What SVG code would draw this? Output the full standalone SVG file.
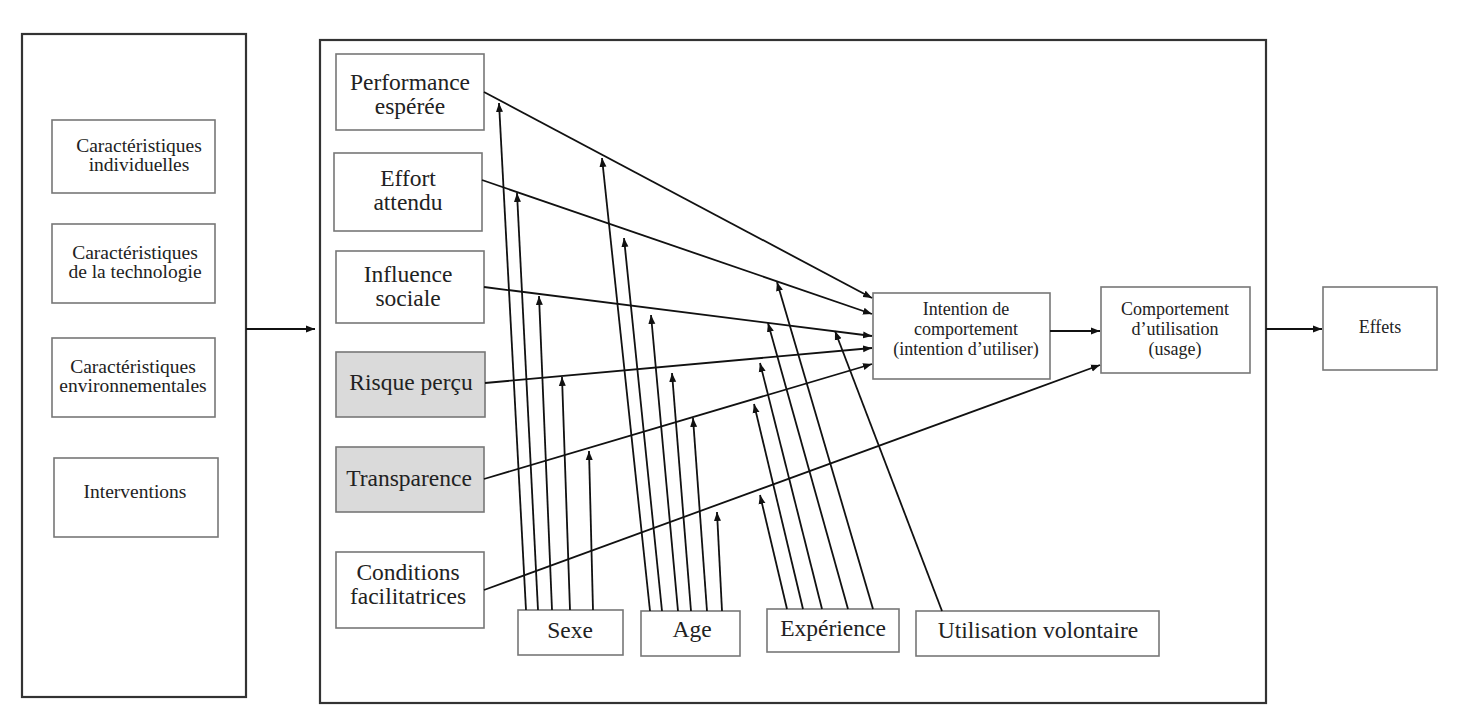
<svg xmlns="http://www.w3.org/2000/svg" width="1460" height="718" viewBox="0 0 1460 718">
<defs>
<marker id="ah" markerWidth="10" markerHeight="8" refX="9" refY="4" orient="auto" markerUnits="userSpaceOnUse"><path d="M0,0.5 L9,4 L0,7.5 z" fill="#111"/></marker>
<style>
.panel{fill:#fff;stroke:#333;stroke-width:2.2}
.box{fill:#fff;stroke:#777;stroke-width:1.6}
.grey{fill:#dadada;stroke:#777;stroke-width:1.6}
.t{font-family:"Liberation Serif",serif;fill:#222;text-anchor:middle}
.l{font-size:19.5px}
.m{font-size:23.5px}
.s{font-size:18px}
.c line{stroke:#111;stroke-width:1.8;marker-end:url(#ah)}
</style>
</defs>
<rect width="1460" height="718" fill="#fff"/>
<g id="panel-left">
<rect class="panel" x="22" y="34" width="224" height="663"/>
</g>
<g id="panel-main">
<rect class="panel" x="320" y="40" width="946" height="663"/>
</g>
<g id="n-indiv"><rect class="box" x="52" y="120" width="163" height="73"/><text class="t l" x="139" y="152">Caractéristiques</text><text class="t l" x="139" y="171">individuelles</text></g>
<g id="n-techno"><rect class="box" x="52" y="224" width="163" height="79"/><text class="t l" x="135" y="259">Caractéristiques</text><text class="t l" x="135" y="278">de la technologie</text></g>
<g id="n-env"><rect class="box" x="52" y="338" width="163" height="79"/><text class="t l" x="133" y="373">Caractéristiques</text><text class="t l" x="133" y="392">environnementales</text></g>
<g id="n-interv"><rect class="box" x="54" y="458" width="164" height="79"/><text class="t l" x="135" y="498">Interventions</text></g>
<g id="n-perf"><rect class="box" x="336" y="54" width="148" height="76"/><text class="t m" x="410" y="90">Performance</text><text class="t m" x="410" y="114">espérée</text></g>
<g id="n-effort"><rect class="box" x="334" y="153" width="148" height="78"/><text class="t m" x="408" y="186">Effort</text><text class="t m" x="408" y="210">attendu</text></g>
<g id="n-influence"><rect class="box" x="336" y="251" width="148" height="72"/><text class="t m" x="408" y="282">Influence</text><text class="t m" x="408" y="306">sociale</text></g>
<g id="n-risque"><rect class="grey" x="336" y="352" width="149" height="65"/><text class="t m" x="411" y="390">Risque perçu</text></g>
<g id="n-transp"><rect class="grey" x="336" y="447" width="148" height="65"/><text class="t m" x="409" y="486">Transparence</text></g>
<g id="n-cond"><rect class="box" x="336" y="552" width="148" height="76"/><text class="t m" x="408" y="580">Conditions</text><text class="t m" x="408" y="604">facilitatrices</text></g>
<g id="n-sexe"><rect class="box" x="518" y="610" width="105" height="45"/><text class="t m" x="570" y="638">Sexe</text></g>
<g id="n-age"><rect class="box" x="641" y="611" width="99" height="45"/><text class="t m" x="692" y="637">Age</text></g>
<g id="n-exp"><rect class="box" x="767" y="609" width="132" height="43"/><text class="t m" x="833" y="636">Expérience</text></g>
<g id="n-volont"><rect class="box" x="916" y="611" width="243" height="45"/><text class="t m" x="1038" y="638">Utilisation volontaire</text></g>
<g id="n-intention"><rect class="box" x="873" y="293" width="177" height="86"/><text class="t s" x="966" y="315">Intention de</text><text class="t s" x="966" y="335">comportement</text><text class="t s" x="966" y="355">(intention d’utiliser)</text></g>
<g id="n-comport"><rect class="box" x="1101" y="287" width="149" height="86"/><text class="t s" x="1175" y="315">Comportement</text><text class="t s" x="1175" y="335">d’utilisation</text><text class="t s" x="1175" y="355">(usage)</text></g>
<g id="n-effets"><rect class="box" x="1323" y="287" width="114" height="83"/><text class="t" style="font-size:18px" x="1380" y="333">Effets</text></g>
<g id="connectors" class="c">
<line x1="246" y1="329" x2="315" y2="329"/>
<line x1="1050" y1="331" x2="1100" y2="331"/>
<line x1="1266" y1="329" x2="1322" y2="329"/>
<line x1="484" y1="92" x2="872" y2="298"/>
<line x1="482" y1="180" x2="872" y2="314"/>
<line x1="484" y1="287" x2="872" y2="336"/>
<line x1="485" y1="383" x2="872" y2="348"/>
<line x1="484" y1="479" x2="872" y2="364"/>
<line x1="484" y1="590" x2="1100" y2="365"/>
<line x1="526" y1="610" x2="499" y2="103"/>
<line x1="538" y1="610" x2="517" y2="193"/>
<line x1="552" y1="610" x2="539" y2="296"/>
<line x1="570" y1="610" x2="562" y2="377"/>
<line x1="593" y1="610" x2="589" y2="451"/>
<line x1="650" y1="611" x2="602" y2="158"/>
<line x1="662" y1="611" x2="624" y2="238"/>
<line x1="678" y1="611" x2="651" y2="315"/>
<line x1="691" y1="611" x2="672" y2="373"/>
<line x1="707" y1="611" x2="693" y2="418"/>
<line x1="722" y1="611" x2="717" y2="512"/>
<line x1="787" y1="609" x2="760" y2="495"/>
<line x1="803" y1="609" x2="754" y2="404"/>
<line x1="822" y1="609" x2="760" y2="363"/>
<line x1="848" y1="609" x2="768" y2="323"/>
<line x1="873" y1="609" x2="777" y2="282"/>
<line x1="942" y1="611" x2="835" y2="331"/>
</g>
</svg>
